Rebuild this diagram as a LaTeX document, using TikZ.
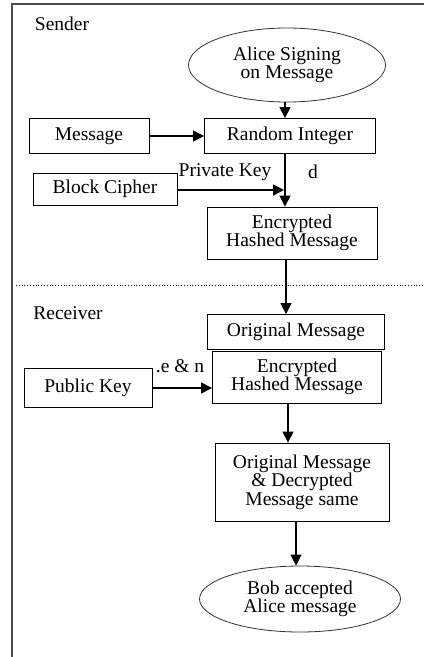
\documentclass[tikz,border=0pt]{standalone}
\usepackage{fontspec}
\setmainfont{Liberation Serif}
\usetikzlibrary{shapes.geometric,arrows.meta}
\begin{document}
\begin{tikzpicture}[x=1pt,y=-1pt,
  every node/.style={font=\fontsize{19.5}{18.5}\selectfont, inner sep=0pt},
  box/.style={draw, line width=0.9pt, align=center},
  oval/.style={draw, ellipse, line width=0.8pt, black!80, text=black, align=center},
  arr/.style={line width=1.5pt, -{Triangle[length=11pt,width=11pt]}},
  lbl/.style={}
]
\useasboundingbox (0,0) rectangle (424,657);
\draw[line width=1.5pt, black!70] (12,657) -- (12,4) -- (424,4);

\node[lbl] (sender) at (62,24) {Sender};
\node[lbl] (receiver) at (68,313) {Receiver};

\node[oval, minimum width=197pt, minimum height=74pt] (alice) at (287,65) {Alice Signing\\on Message};
\node[box, minimum width=120pt, minimum height=35pt] (msg) at (89,136) {Message};
\node[box, minimum width=171pt, minimum height=35pt] (rand) at (290,136) {Random Integer};
\node[box, minimum width=144pt, minimum height=32pt] (block) at (105,189) {Block Cipher};
\node[box, minimum width=170pt, minimum height=52pt] (enc1) at (292,233) {Encrypted\\Hashed Message};

\draw[dotted, line width=0.8pt] (16,285) -- (424,285);

\node[box, minimum width=177pt, minimum height=35pt] (orig) at (296,332) {Original Message};
\node[box, minimum width=169pt, minimum height=52pt] (enc2) at (297,377) {Encrypted\\Hashed Message};
\node[box, minimum width=128pt, minimum height=39pt] (pub) at (88,388) {Public Key};
\node[box, minimum width=174pt, minimum height=78pt] (same) at (302,482) {Original Message\\\& Decrypted\\Message same};
\node[oval, minimum width=201pt, minimum height=66pt] (bob) at (300,599) {Bob accepted\\Alice message};

\node[lbl] (pk) at (225,172) {Private Key};
\node[lbl] (d) at (313,172) {d};
\node[lbl] (en) at (180,366) {.e \& n};

\coordinate (c1) at (285,0);
\coordinate (c2) at (286,0);
\coordinate (c3) at (288,0);
\coordinate (c4) at (296,0);
\coordinate (j) at (284,190);

\draw[arr] (alice.south -| c1) -- (rand.north -| c1);
\draw[arr] (msg.east) -- (rand.west |- msg.east);
\draw[arr] (rand.south -| c1) -- (enc1.north -| c1);
\draw[arr] (block.east |- j) -- (j);
\draw[arr] (enc1.south -| c2) -- (orig.north -| c2);
\draw[arr] (pub.east) -- (enc2.west |- pub.east);
\draw[arr] (enc2.south -| c3) -- (same.north -| c3);
\draw[arr] (same.south -| c4) -- (bob.north -| c4);
\end{tikzpicture}
\end{document}
